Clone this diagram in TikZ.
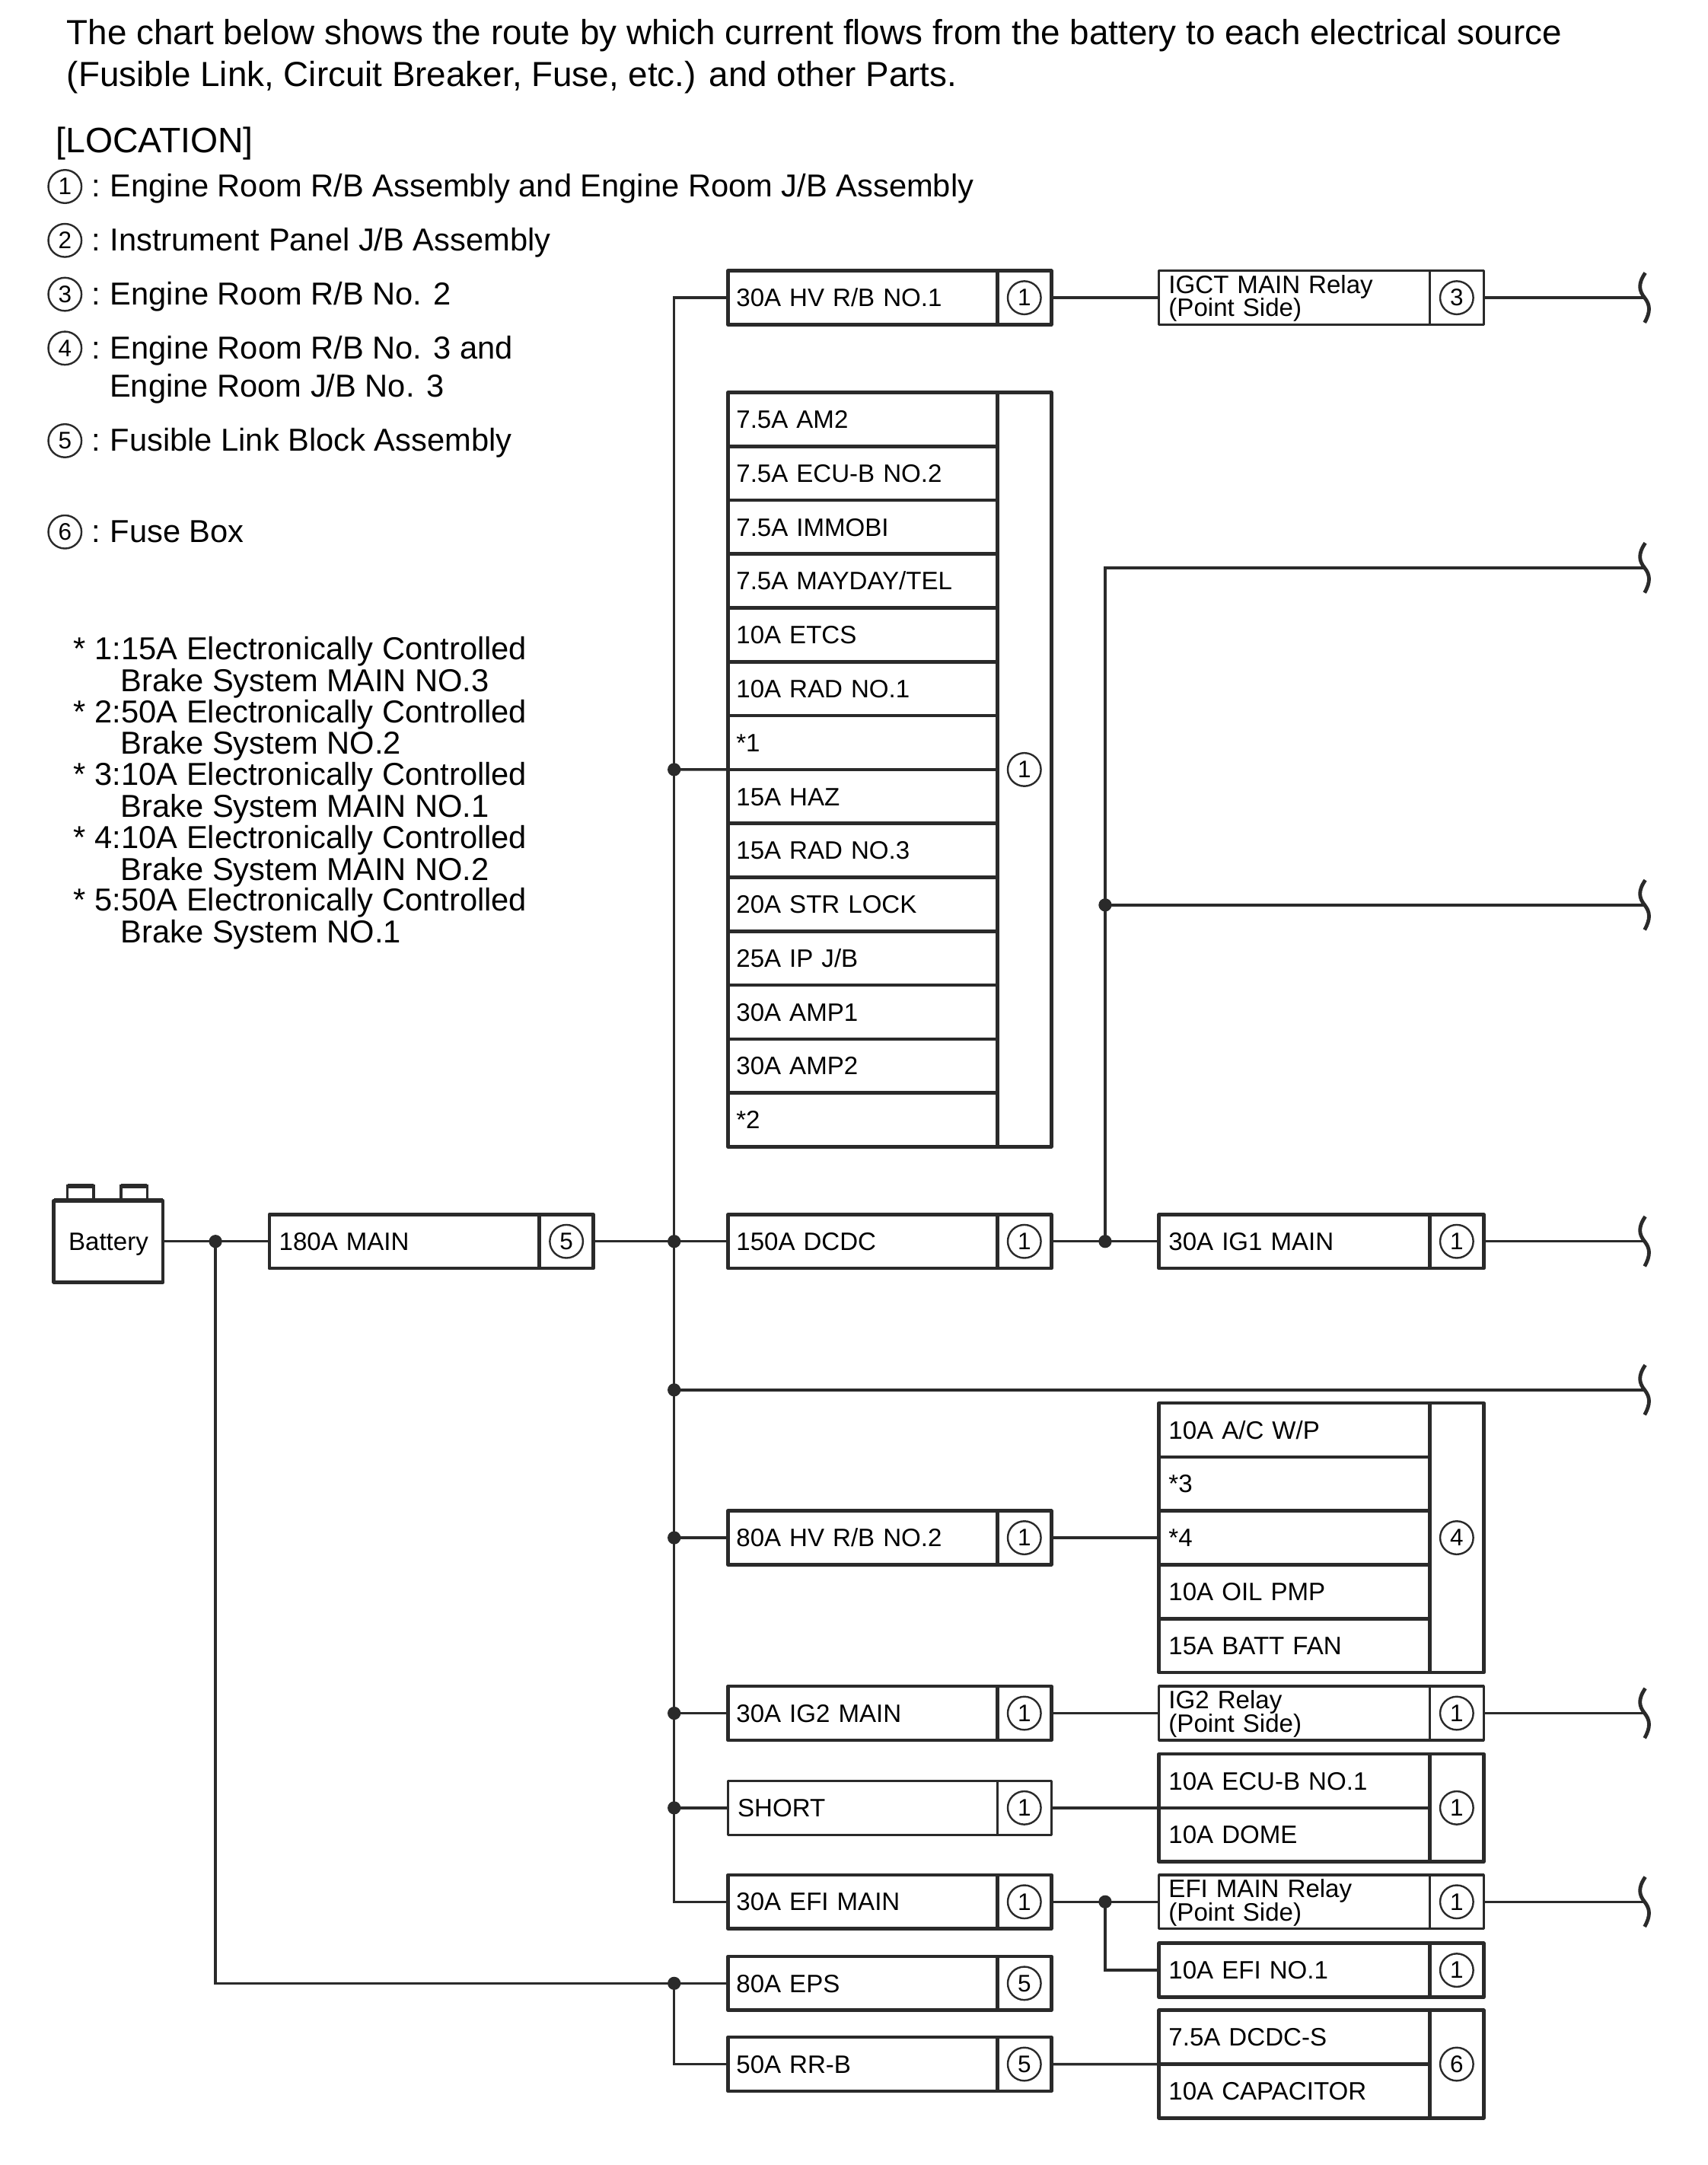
\documentclass[tikz,border=0pt]{standalone}
\usepackage{fontspec}
\setmainfont{Liberation Sans}
\usetikzlibrary{calc}
\def\U{0.45pt}
\definecolor{ink}{HTML}{2A2A2A}
\tikzset{
  x=0.45pt,y=-0.45pt,
  every node/.style={text=black},
  cellbox/.style={draw=ink,line width=1.15pt,line join=round,inner xsep=7*\U,inner ysep=0pt,outer sep=0pt,align=left,anchor=center,
    minimum height=39*\U,text height=12.9*\U,text depth=0pt,font=\fontsize{8.2}{7.65}\selectfont},
  relaybox/.style={cellbox,line width=0.85pt,text height=0pt,text depth=6.6*\U},
  thinbox/.style={draw=ink,line width=0.72pt},
  numcell/.style={draw=ink,line width=1.15pt,line join=round,inner sep=0pt,outer sep=0pt,minimum width=39*\U},
  relaynum/.style={numcell,line width=0.85pt},
  numcirc/.style={circle,draw=ink,line width=0.6pt,minimum size=24*\U,inner sep=0pt,font=\fontsize{7.8}{8}\selectfont},
  wire/.style={draw=ink,line width=0.85pt},
  junction/.style={circle,fill=ink,draw=none,minimum size=9.5*\U,inner sep=0pt,outer sep=0pt},
  squig/.style={draw=ink,line width=1.2pt},
  headtxt/.style={anchor=base west,inner sep=0pt,font=\fontsize{11.35}{12}\selectfont},
  loctxt/.style={anchor=base west,inner sep=0pt,font=\fontsize{10.33}{12}\selectfont},
}
% #1 label-cell style, #2 name, #3 centre y, #4 text, #5 number
\newcommand{\rowA}[5][cellbox]{%
  \node[#1,inner xsep=6*\U,minimum width=195*\U,text width=183*\U] (#2) at (624.5,#3) {#4};
  \node[numcell,minimum height=39*\U] (#2n) at (741.5,#3) {};
  \node[numcirc] (#2c) at (#2n) {#5};}
\newcommand{\rowB}[5][cellbox]{%
  \node[#1,minimum width=196*\U,text width=182*\U] (#2) at (937,#3) {#4};
  \node[numcell,minimum height=39*\U] (#2n) at (1054.5,#3) {};
  \node[numcirc] (#2c) at (#2n) {#5};}
\newcommand{\rowR}[4]{%
  \node[relaybox,minimum width=196*\U,text width=182*\U] (#1) at (937,#2) {#3};
  \node[relaynum,minimum height=39*\U] (#1n) at (1054.5,#2) {};
  \node[numcirc] (#1c) at (#1n) {#4};}
\newcommand{\cellA}[3]{\node[cellbox,inner xsep=6*\U,minimum width=195*\U,text width=183*\U] (#1) at (624.5,#2) {#3};}
\newcommand{\cellB}[3]{\node[cellbox,minimum width=196*\U,text width=182*\U] (#1) at (937,#2) {#3};}
\newcommand{\squiggle}[1]{\draw[squig,shift={(#1)}] (1,-18) .. controls (-4.5,-10) and (-3.5,-5) .. (0.5,0) .. controls (4.5,5) and (5,10) .. (0.5,18);}
\newcommand{\legend}[3]{\node[numcirc] (#1c) at (47,#2) {#3};}
\begin{document}
\begin{tikzpicture}
\useasboundingbox (0,0) rectangle (1236.4,1567);
% heading
\node[headtxt] (h1) at (48,32.3) {The chart below shows the route by which current flows from the battery to each electrical source};
\node[headtxt] (h2) at (48,62.3) {(Fusible Link, Circuit Breaker, Fuse, etc.) and other Parts.};
\node[headtxt,font=\fontsize{11.5}{12}\selectfont] (loc) at (40,110.7) {[LOCATION]};
% legend
\legend{l1}{135}{1}\legend{l2}{174}{2}\legend{l3}{213}{3}\legend{l4}{252}{4}\legend{l5}{319}{5}\legend{l6}{385}{6}
\node[loctxt] (lt1) at (66,142.6) {:\hspace{0.3em}Engine Room R/B Assembly and Engine Room J/B Assembly};
\node[loctxt] (lt2) at (66,181.6) {:\hspace{0.3em}Instrument Panel J/B Assembly};
\node[loctxt] (lt3) at (66,220.6) {:\hspace{0.3em}Engine Room R/B No. 2};
\node[loctxt] (lt4) at (66,259.6) {:\hspace{0.3em}Engine Room R/B No. 3 and};
\node[loctxt] (lt4b) at (79,287.6) {Engine Room J/B No. 3};
\node[loctxt] (lt5) at (66,326.6) {:\hspace{0.3em}Fusible Link Block Assembly};
\node[loctxt] (lt6) at (66,392.6) {:\hspace{0.3em}Fuse Box};
% notes
\node[loctxt] (n1) at (53,477.5) {* 1:15A Electronically Controlled};
\node[loctxt] (n1b) at (87,500.5) {Brake System MAIN NO.3};
\node[loctxt] (n2) at (53,523) {* 2:50A Electronically Controlled};
\node[loctxt] (n2b) at (87,546) {Brake System NO.2};
\node[loctxt] (n3) at (53,568.5) {* 3:10A Electronically Controlled};
\node[loctxt] (n3b) at (87,591.5) {Brake System MAIN NO.1};
\node[loctxt] (n4) at (53,614) {* 4:10A Electronically Controlled};
\node[loctxt] (n4b) at (87,637) {Brake System MAIN NO.2};
\node[loctxt] (n5) at (53,659.5) {* 5:50A Electronically Controlled};
\node[loctxt] (n5b) at (87,682.5) {Brake System NO.1};
% battery
\node[draw=ink,line width=0.85pt,fill=white,minimum width=19*\U,minimum height=10*\U,inner sep=0pt,outer sep=0pt] (t1) at (58.3,863.5) {};
\node[draw=ink,line width=0.85pt,fill=white,minimum width=19*\U,minimum height=10*\U,inner sep=0pt,outer sep=0pt] (t2) at (97,863.5) {};
\draw[ink,line width=1.4pt] (t1.north west) -- (t1.north east);
\draw[ink,line width=1.4pt] (t2.north west) -- (t2.north east);
\node[draw=ink,line width=1.15pt,line join=round,fill=white,minimum width=79*\U,minimum height=59*\U,inner sep=0pt,outer sep=0pt,font=\fontsize{8.2}{9}\selectfont,text height=12.6*\U,text depth=0pt] (bat) at (78.5,898.5) {Battery};
\draw[ink,line width=1.4pt] (bat.north west) -- (bat.north east);
% main fusible link
\node[cellbox,minimum width=195*\U,text width=181*\U] (main) at (292.5,898.5) {180A MAIN};
\node[numcell,minimum height=39*\U] (mainn) at (410,898.5) {};
\node[numcirc] (mainc) at (mainn) {5};
% column A
\rowA{hva}{215.5}{30A HV R/B NO.1}{1}
\cellA{a1}{303.5}{7.5A AM2}
\cellA{a2}{342.5}{7.5A ECU-B NO.2}
\cellA{a3}{381.5}{7.5A IMMOBI}
\cellA{a4}{420.5}{7.5A MAYDAY/TEL}
\cellA{a5}{459.5}{10A ETCS}
\cellA{a6}{498.5}{10A RAD NO.1}
\cellA{a7}{537.5}{*1}
\cellA{a8}{576.5}{15A HAZ}
\cellA{a9}{615.5}{15A RAD NO.3}
\cellA{a10}{654.5}{20A STR LOCK}
\cellA{a11}{693.5}{25A IP J/B}
\cellA{a12}{732.5}{30A AMP1}
\cellA{a13}{771.5}{30A AMP2}
\cellA{a14}{810.5}{*2}
\node[numcell,minimum height=546*\U] (an) at (741.5,557) {};
\node[numcirc] (ac) at (an) {1};
\rowA{dcdc}{898.5}{150A DCDC}{1}
\rowA{hvb}{1113}{80A HV R/B NO.2}{1}
\rowA{igm}{1240}{30A IG2 MAIN}{1}
\node[cellbox,thinbox,inner xsep=7*\U,minimum width=195*\U,text width=181*\U] (short) at (624.5,1308.5) {SHORT};
\node[numcell,thinbox,minimum height=39*\U] (shortn) at (741.5,1308.5) {};
\node[numcirc] (shortc) at (shortn) {1};
\rowA{efi}{1376.5}{30A EFI MAIN}{1}
\rowA{eps}{1435.5}{80A EPS}{5}
\rowA{rrb}{1494}{50A RR-B}{5}
% column B
\rowR{igct}{215.5}{IGCT MAIN Relay\\(Point Side)}{3}
\rowB{igo}{898.5}{30A IG1 MAIN}{1}
\cellB{b1}{1035}{10A A/C W/P}
\cellB{b2}{1074}{*3}
\cellB{b3}{1113}{*4}
\cellB{b4}{1152}{10A OIL PMP}
\cellB{b5}{1191}{15A BATT FAN}
\node[numcell,minimum height=195*\U] (bn) at (1054.5,1113) {};
\node[numcirc] (bc) at (bn) {4};
\rowR{igr}{1240}{IG2 Relay\\(Point Side)}{1}
\cellB{c1}{1289}{10A ECU-B NO.1}
\cellB{c2}{1328}{10A DOME}
\node[numcell,minimum height=78*\U] (cn) at (1054.5,1308.5) {};
\node[numcirc] (cc) at (cn) {1};
\rowR{efr}{1376.5}{EFI MAIN Relay\\(Point Side)}{1}
\rowB{efo}{1426}{10A EFI NO.1}{1}
\cellB{d1}{1474.5}{7.5A DCDC-S}
\cellB{d2}{1513.5}{10A CAPACITOR}
\node[numcell,minimum height=78*\U] (dn) at (1054.5,1494) {};
\node[numcirc] (dc) at (dn) {6};
% junctions
\node[junction] (jbat) at (156,898.5) {};
\node[junction] (j1) at (488,557) {};
\node[junction] (j2) at (488,898.5) {};
\node[junction] (j3) at (488,1006) {};
\node[junction] (j4) at (488,1113) {};
\node[junction] (j5) at (488,1240) {};
\node[junction] (j6) at (488,1308.5) {};
\node[junction] (jeps) at (488,1435.5) {};
\node[junction] (jig) at (800,898.5) {};
\node[junction] (jup) at (800,655) {};
\node[junction] (jefi) at (800,1376.5) {};
% free ends
\coordinate (e1) at (1190,215.5);
\coordinate (e2) at (1190,411);
\coordinate (e3) at (1190,655);
\coordinate (e4) at (1190,898.5);
\coordinate (e5) at (1190,1006);
\coordinate (e6) at (1190,1240);
\coordinate (e7) at (1190,1376.5);
% wires
\draw[wire] (bat.east) -- (jbat.center) -- (main.west);
\draw[wire] (jbat.center) |- (jeps.center);
\draw[wire] (mainn.east) -- (j2.center) -- (dcdc.west);
\draw[wire] (hva.west) -| (j1.center) -- (j2.center) -- (j3.center) -- (j4.center) -- (j5.center) -- (j6.center) |- (efi.west);
\draw[wire] (j1.center) -- (a7.south west);
\draw[wire] (j3.center) -- (e5);
\draw[wire] (j4.center) -- (hvb.west);
\draw[wire] (j5.center) -- (igm.west);
\draw[wire] (j6.center) -- (short.west);
\draw[wire] (jeps.center) -- (eps.west);
\draw[wire] (jeps.center) |- (rrb.west);
\draw[wire] (hvan.east) -- (igct.west);
\draw[wire] (igctn.east) -- (e1);
\draw[wire] (dcdcn.east) -- (jig.center) -- (igo.west);
\draw[wire] (jig.center) -- (jup.center) |- (e2);
\draw[wire] (jup.center) -- (e3);
\draw[wire] (igon.east) -- (e4);
\draw[wire] (hvbn.east) -- (b3.west);
\draw[wire] (igmn.east) -- (igr.west);
\draw[wire] (igrn.east) -- (e6);
\draw[wire] (shortn.east) -- (c1.south west);
\draw[wire] (efin.east) -- (jefi.center) -- (efr.west);
\draw[wire] (jefi.center) |- (efo.west);
\draw[wire] (efrn.east) -- (e7);
\draw[wire] (rrbn.east) -- (d1.south west);
% break marks
\squiggle{e1}\squiggle{e2}\squiggle{e3}\squiggle{e4}\squiggle{e5}\squiggle{e6}\squiggle{e7}
\end{tikzpicture}
\end{document}
